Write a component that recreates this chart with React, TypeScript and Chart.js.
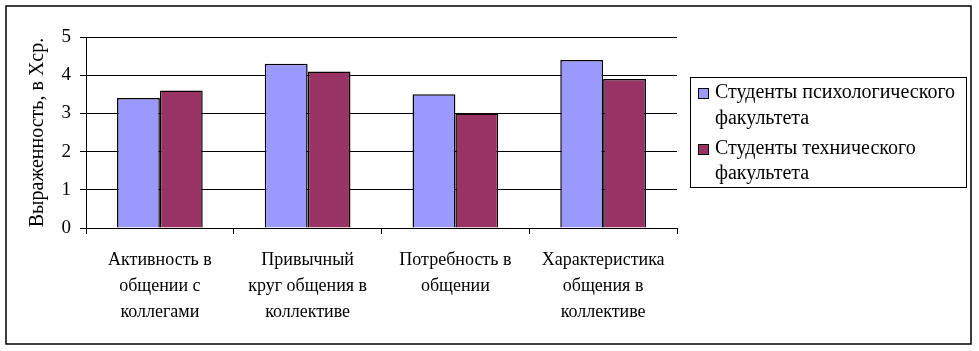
import React, { useEffect, useRef } from "react";
import { Chart, registerables } from "chart.js";

Chart.register(...registerables);

const categories: string[][] = [
  ["Активность в", "общении с", "коллегами"],
  ["Привычный", "круг общения в", "коллективе"],
  ["Потребность в", "общении"],
  ["Характеристика", "общения в", "коллективе"],
];
const seriesNames = [
  "Студенты психологического факультета",
  "Студенты технического факультета",
];
const legendLines: string[][] = [
  ["Студенты психологического", "факультета"],
  ["Студенты технического", "факультета"],
];
const psychology = [3.4, 4.3, 3.5, 4.4];
const technical = [3.6, 4.1, 3.0, 3.9];
const yMin = 0;
const yMax = 5;
const yStep = 1;
const yTitle = "Выраженность, в Хср.";

const FONT = '"Liberation Serif", "Times New Roman", serif';

const framePlugin = {
  id: "frameAndLegend",
  afterDraw(chart: any) {
    const ctx = chart.ctx;
    ctx.save();
    // outer frame
    ctx.strokeStyle = "#000";
    ctx.lineWidth = 1.5;
    ctx.strokeRect(6, 6, 965, 338);
    // legend box
    ctx.lineWidth = 1;
    ctx.strokeRect(690.5, 77.5, 276, 110);
    ctx.font = `20px ${FONT}`;
    ctx.textBaseline = "middle";
    ctx.textAlign = "left";
    const rows = [
      [93, 119],
      [149, 174],
    ];
    chart.data.datasets.forEach((ds: any, i: number) => {
      const [y1, y2] = rows[i];
      ctx.fillStyle = ds.backgroundColor;
      ctx.fillRect(698, y1 - 5, 10, 10);
      ctx.strokeStyle = "#000";
      ctx.strokeRect(698.5, y1 - 4.5, 10, 10);
      ctx.fillStyle = "#000";
      ctx.fillText(legendLines[i][0], 715, y1);
      ctx.fillText(legendLines[i][1], 715, y2);
    });
    ctx.restore();
  },
};

export default function App() {
  const ref = useRef<HTMLCanvasElement | null>(null);
  useEffect(() => {
    if (!ref.current) return;
    const chart = new Chart(ref.current, {
      type: "bar",
      data: {
        labels: categories,
        datasets: [
          {
            label: seriesNames[0],
            data: psychology,
            backgroundColor: "#9999FF",
            borderColor: "#000000",
            borderWidth: 1.5,
          },
          {
            label: seriesNames[1],
            data: technical,
            backgroundColor: "#993366",
            borderColor: "#000000",
            borderWidth: 1.5,
          },
        ],
      },
      options: {
        animation: false,
        responsive: false,
        devicePixelRatio: 1,
        layout: { padding: { top: 37, right: 302, left: 0, bottom: 0 } },
        plugins: {
          legend: { display: false },
          tooltip: { enabled: false },
        },
        datasets: {
          bar: { barPercentage: 1, categoryPercentage: 0.58 },
        },
        scales: {
          x: {
            offset: true,
            grid: {
              offset: true,
              drawOnChartArea: false,
              drawTicks: true,
              tickLength: 6,
              color: "#000",
            },
            border: { display: true, color: "#000", width: 1 },
            ticks: {
              color: "#000",
              font: { family: FONT, size: 18, lineHeight: 1.45 },
              padding: 13,
              maxRotation: 0,
              autoSkip: false,
            },
            afterFit: (s: any) => {
              s.height = 123;
            },
          },
          y: {
            min: yMin,
            max: yMax,
            grid: {
              color: "#000",
              drawTicks: true,
              tickLength: 6,
            },
            border: { display: true, color: "#000", width: 1 },
            ticks: {
              stepSize: yStep,
              color: "#000",
              font: { family: FONT, size: 19 },
              padding: 9,
            },
            title: {
              display: true,
              text: yTitle,
              color: "#000",
              font: { family: FONT, size: 20 },
              padding: { top: 26, bottom: 0 },
            },
            afterFit: (s: any) => {
              s.width = 86;
            },
          },
        },
      },
      plugins: [framePlugin],
    });
    return () => chart.destroy();
  }, []);
  return (
    <div style={{ position: "absolute", left: 0, top: 0, width: 979, height: 351, background: "#fff" }}>
      <canvas ref={ref} width={979} height={351} style={{ display: "block" }} />
    </div>
  );
}
